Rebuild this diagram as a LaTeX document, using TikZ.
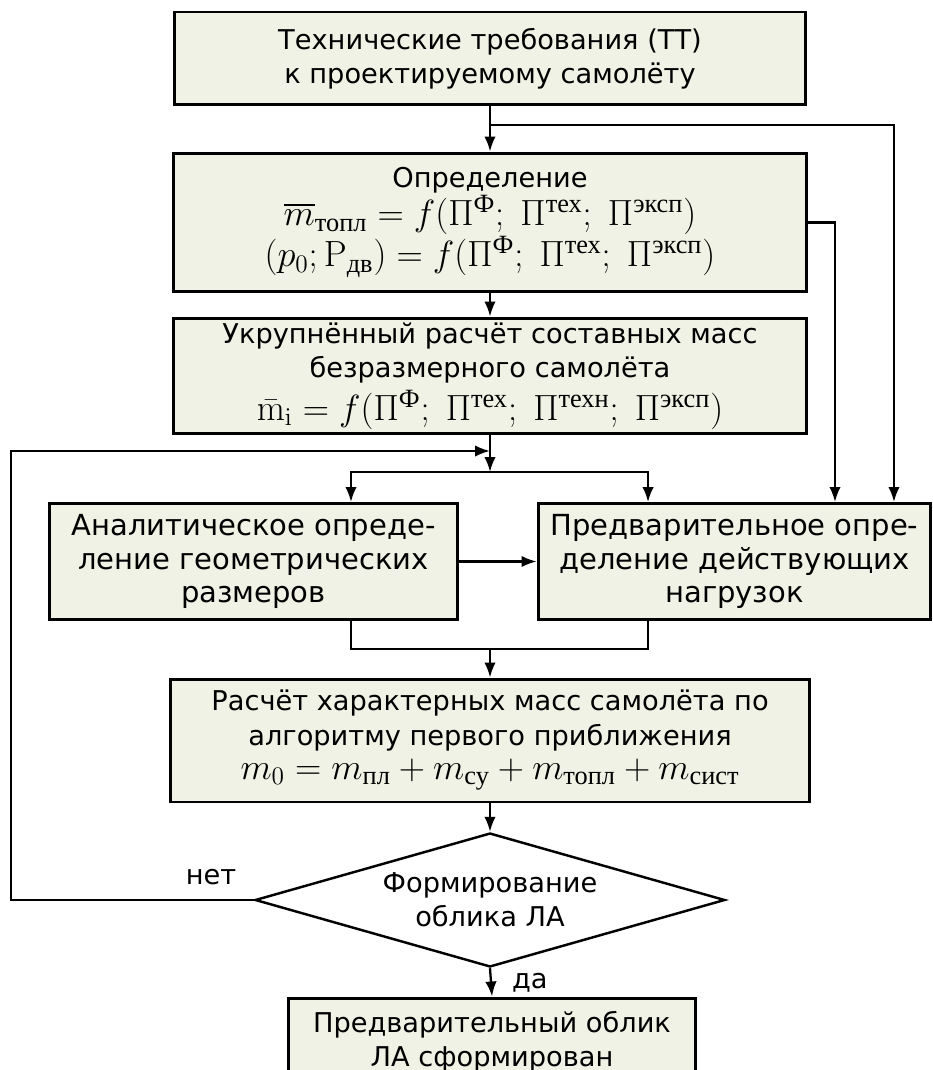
\documentclass[tikz,border=0pt]{standalone}
\usepackage{amsmath}
\usepackage[no-math]{fontspec}
\setmainfont{DejaVu Sans}
\newfontfamily\cyrserif{Liberation Serif}
\newcommand{\ct}[1]{\text{\cyrserif #1}}
\DeclareMathSizes{20}{20}{15}{11}
\newcommand{\formula}[1]{{\fontsize{20pt}{21pt}\selectfont$#1$}}
\usetikzlibrary{arrows.meta,shapes.geometric}
\definecolor{boxfill}{RGB}{239,242,228}

\begin{document}
\begin{tikzpicture}[
  x=0.02cm,
  y=-0.02cm,
  >=Latex,
  font=\fontsize{15.5pt}{19.5pt}\selectfont,
  line/.style={draw=black,line width=1.3pt},
  arrow/.style={line,-{Latex[length=3mm,width=2.3mm]}},
  block/.style={draw=black,line width=1.7pt,fill=boxfill,align=center,inner sep=0pt},
  sideblock/.style={block,font=\fontsize{16.5pt}{19pt}\selectfont},
  decision/.style={draw=black,line width=1.4pt,fill=white,diamond,aspect=3.5,
    inner sep=0pt,align=center,font=\fontsize{15.5pt}{19.5pt}\selectfont},
  answer/.style={font=\fontsize{15.5pt}{19pt}\selectfont}
]
\useasboundingbox (0,0) rectangle (932,1070);

% Main column
\node[block,minimum width=12.64cm,minimum height=1.86cm] (tt) at (490,58.5)
  {Технические требования (ТТ)\\к проектируемому самолёту};
\node[block,minimum width=12.68cm,minimum height=2.78cm] (det) at (490,222.5)
  {Определение\\
   \formula{\overline{m}_{\ct{топл}}=f(\Pi^{\ct{Ф}};\;\Pi^{\ct{тех}};\;\Pi^{\ct{эксп}})}\\
   \formula{(p_0;\mathrm{P}_{\ct{дв}})=f(\Pi^{\ct{Ф}};\;\Pi^{\ct{тех}};\;\Pi^{\ct{эксп}})}};
\node[block,minimum width=12.68cm,minimum height=2.32cm] (mass) at (490,376)
  {Укрупнённый расчёт составных масс\\безразмерного самолёта\\[3pt]
   \formula{\bar{\mathrm{m}}_{\mathrm{i}}=f(\Pi^{\ct{Ф}};\;\Pi^{\ct{тех}};\;\Pi^{\ct{техн}};\;\Pi^{\ct{эксп}})}};

% Parallel blocks
\node[sideblock,minimum width=8.18cm,minimum height=2.32cm] (geom) at (253.5,561.5)
  {Аналитическое опреде-\\ление геометрических\\размеров};
\node[sideblock,minimum width=7.86cm,minimum height=2.32cm] (load) at (734.5,561.5)
  {Предварительное опре-\\деление действующих\\нагрузок};

\node[block,minimum width=12.8cm,minimum height=2.46cm] (calc) at (490,740.5)
  {Расчёт характерных масс самолёта по\\алгоритму первого приближения\\
   \formula{m_0=m_{\ct{пл}}+m_{\ct{су}}+m_{\ct{топл}}+m_{\ct{сист}}}};

% Decision and result
\node[decision,minimum width=9.4cm,minimum height=2.68cm] (dec) at (490,900)
  {Формирование\\облика ЛА};
\node[block,minimum width=8.16cm,minimum height=1.74cm] (res) at (492,1041.5)
  {Предварительный облик\\ЛА сформирован};
\node[answer] (no) at (211,877) {нет};

% Connectors
\coordinate (tap) at (490,125);
\coordinate (loopin) at (490,451);
\coordinate (split) at (490,472);
\coordinate (merge) at (490,649);
\coordinate (loopcorner) at (11,900);

\draw[arrow] (tt.south) -- (det.north);
\draw[arrow] (tap) -| ([xshift=3.19cm]load.north);
\draw[arrow] (det.east) -| ([xshift=2.01cm]load.north);
\draw[arrow] (det.south) -- (mass.north);
\draw[arrow] (mass.south) -- (split);
\draw[arrow] (split) -| ([xshift=1.95cm]geom.north);
\draw[arrow] (split) -| ([xshift=-1.73cm]load.north);
\draw[arrow] (geom.east) -- (load.west);
\draw[line] ([xshift=1.95cm]geom.south) |- (merge);
\draw[line] ([xshift=-1.73cm]load.south) |- (merge);
\draw[arrow] (merge) -- (calc.north);
\draw[arrow] (calc.south) -- (dec.north);
\draw[arrow] (dec.south) -- node[answer,right,xshift=0.28cm] {да} (res.north);
\draw[arrow] (dec.west) -- (loopcorner) |- (loopin);

\end{tikzpicture}
\end{document}
